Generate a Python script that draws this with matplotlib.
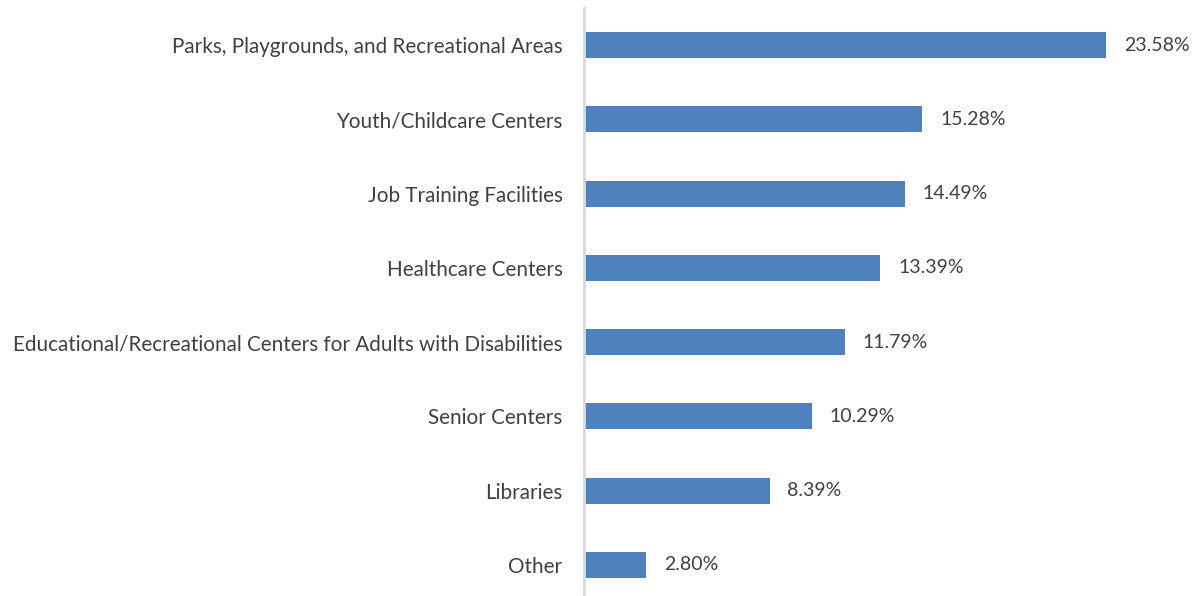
import matplotlib
matplotlib.use("Agg")
import matplotlib.pyplot as plt

categories = [
    "Parks, Playgrounds, and Recreational Areas",
    "Youth/Childcare Centers",
    "Job Training Facilities",
    "Healthcare Centers",
    "Educational/Recreational Centers for Adults with Disabilities",
    "Senior Centers",
    "Libraries",
    "Other",
]
values = [23.58, 15.28, 14.49, 13.39, 11.79, 10.29, 8.39, 2.80]

plt.rcParams["font.family"] = ["Lato", "DejaVu Sans"]
text_color = "#404040"

fig = plt.figure(figsize=(12.01, 5.96), dpi=100)
ax = fig.add_axes([584 / 1201, 0, 1 - 584 / 1201, 588 / 596])

y_pos = list(range(len(categories)))
ax.barh(y_pos, values, height=0.35, color="#4f81bd")

for y, v in zip(y_pos, values):
    ax.text(v + 0.8, y, f"{v:.2f}%", va="center", ha="left",
            fontsize=14, color=text_color)

ax.set_yticks(y_pos)
ax.set_yticklabels(categories, fontsize=14.9, color=text_color)
ax.tick_params(axis="y", length=0, pad=15.5)
ax.set_xticks([])
ax.set_xlim(0, 617 / 22.14)
ax.set_ylim(7.42, -0.5)

for side in ["top", "right", "bottom"]:
    ax.spines[side].set_visible(False)
ax.spines["left"].set_color("#d9d9d9")
ax.spines["left"].set_linewidth(2)

fig.savefig("out.png", dpi=100)
